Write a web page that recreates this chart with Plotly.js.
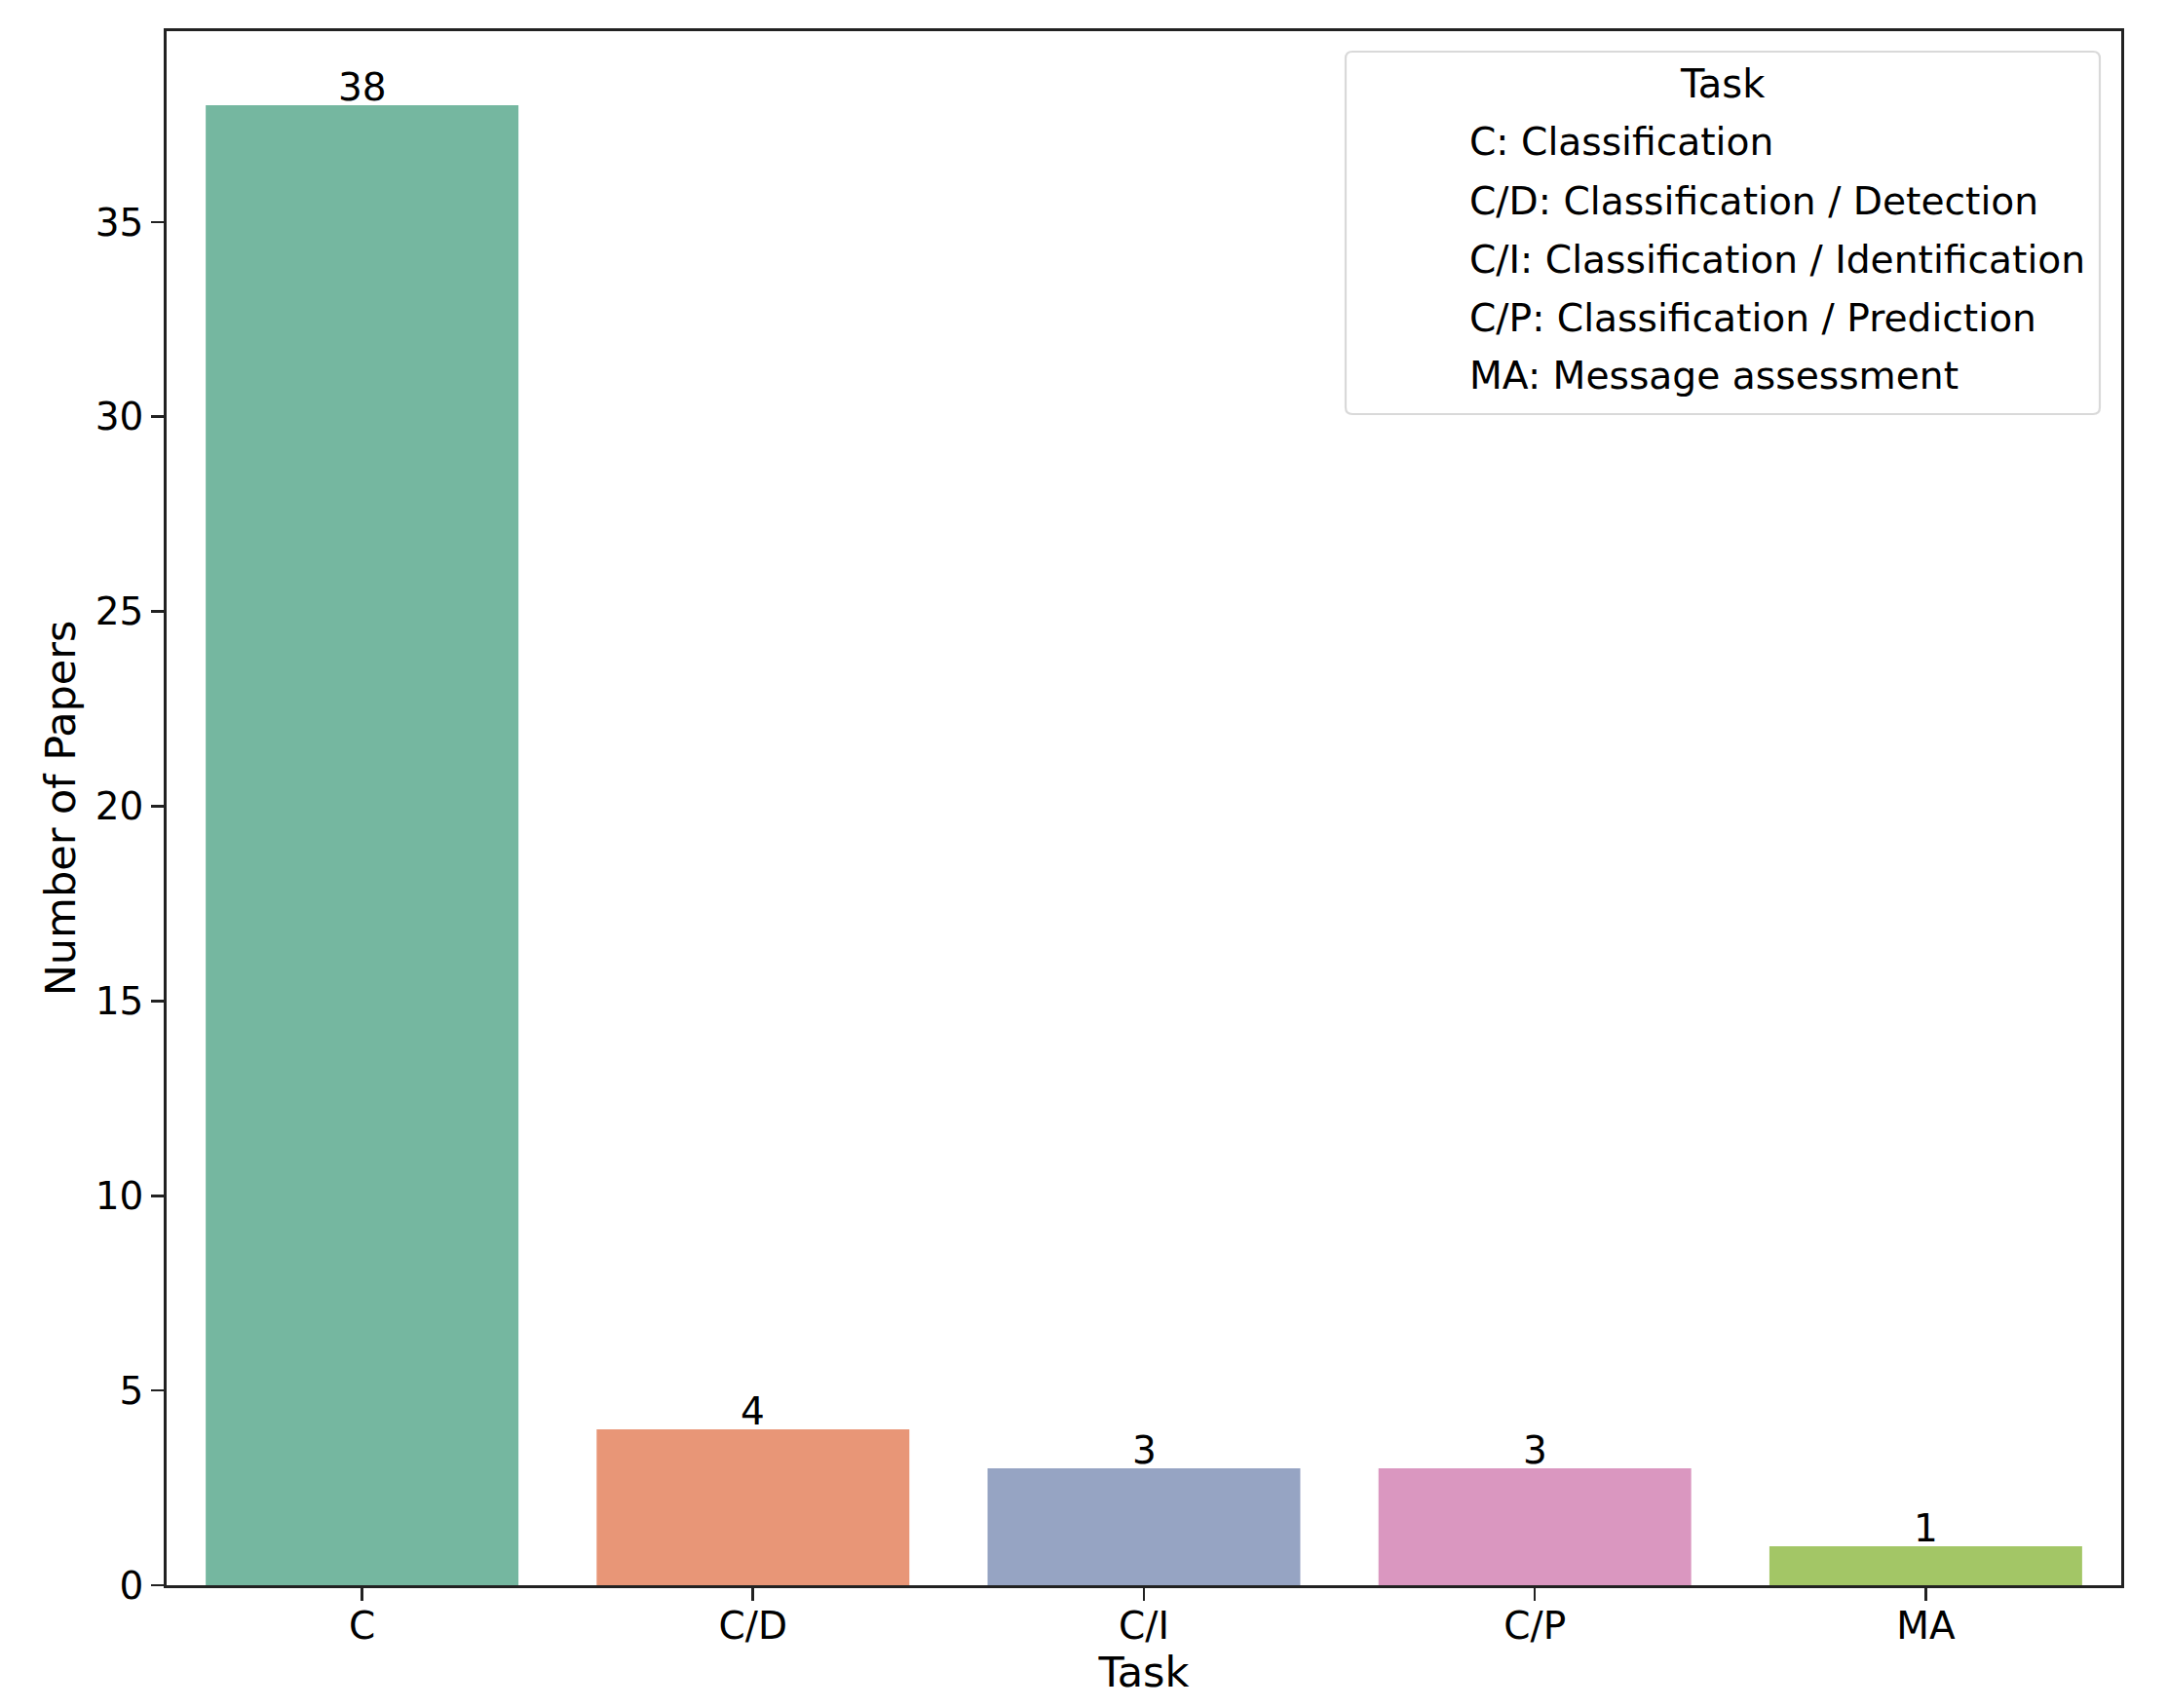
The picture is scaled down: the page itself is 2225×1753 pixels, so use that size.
<!DOCTYPE html>
<html>
<head>
<meta charset="utf-8">
<script src="https://cdn.plot.ly/plotly-3.0.1.min.js"></script>
<style>
  html, body { margin: 0; padding: 0; background: #fff; }
  #chart { width: 2225px; height: 1753px; }
</style>
</head>
<body>
<div id="chart"></div>
<script>
// data
var tasks = ['C', 'C/D', 'C/I', 'C/P', 'MA'];
var paperCounts = [38, 4, 3, 3, 1];
var barColors = ['#75b7a0', '#e89677', '#96a4c3', '#da97c0', '#a3c666'];
var legendTitle = 'Task';
var legendLabels = [
  'C: Classification',
  'C/D: Classification / Detection',
  'C/I: Classification / Identification',
  'C/P: Classification / Prediction',
  'MA: Message assessment'
];

var W = 2225, H = 1753;
var plotL = 171, plotR = 2177, plotT = 32, plotB = 1627;
var font = 'DejaVu Sans, sans-serif';

// pixel -> paper helpers for the legend box
function px(x) { return (x - plotL) / (plotR - plotL); }
function py(y) { return (plotB - y) / (plotB - plotT); }

var trace = {
  type: 'bar',
  x: tasks,
  y: paperCounts,
  width: 0.8,
  marker: { color: barColors, line: { width: 0 } },
  hoverinfo: 'x+y',
  showlegend: false
};

// value labels sitting on top of each bar
var annotations = tasks.map(function (t, i) {
  return {
    x: t, y: paperCounts[i], xref: 'x', yref: 'y',
    xanchor: 'center', yanchor: 'bottom', yshift: -6,
    text: String(paperCounts[i]), showarrow: false,
    font: { family: font, size: 39, color: '#000' }
  };
});

// legend drawn as a framed box of plain text (no handles, like the original)
var boxL = 1381, boxR = 2155, boxT = 53, boxB = 425, rad = 7;
var rx = rad / (plotR - plotL), ry = rad / (plotB - plotT);
var x0 = px(boxL), x1 = px(boxR), y0 = py(boxB), y1 = py(boxT);
var boxPath = 'M' + (x0 + rx) + ',' + y1 +
  ' L' + (x1 - rx) + ',' + y1 + ' Q' + x1 + ',' + y1 + ' ' + x1 + ',' + (y1 - ry) +
  ' L' + x1 + ',' + (y0 + ry) + ' Q' + x1 + ',' + y0 + ' ' + (x1 - rx) + ',' + y0 +
  ' L' + (x0 + rx) + ',' + y0 + ' Q' + x0 + ',' + y0 + ' ' + x0 + ',' + (y0 + ry) +
  ' L' + x0 + ',' + (y1 - ry) + ' Q' + x0 + ',' + y1 + ' ' + (x0 + rx) + ',' + y1 + ' Z';

annotations.push({
  xref: 'paper', yref: 'paper',
  x: px((boxL + boxR) / 2), y: py(86),
  xanchor: 'center', yanchor: 'middle',
  text: legendTitle, showarrow: false,
  font: { family: font, size: 40, color: '#000' }
});
legendLabels.forEach(function (lab, i) {
  annotations.push({
    xref: 'paper', yref: 'paper',
    x: px(1506), y: py(146 + i * 60),
    xanchor: 'left', yanchor: 'middle',
    text: lab, showarrow: false,
    font: { family: font, size: 39.2, color: '#000' }
  });
});

var axisCommon = {
  showline: true, mirror: true, linecolor: '#222', linewidth: 2.8,
  showgrid: false, zeroline: false,
  ticks: 'outside', ticklen: 13, tickwidth: 2.6, tickcolor: '#222',
  tickfont: { family: font, size: 39, color: '#000' }
};

var layout = {
  width: W, height: H,
  margin: { l: plotL, r: W - plotR, t: plotT, b: H - plotB, pad: 0 },
  paper_bgcolor: '#fff', plot_bgcolor: '#fff',
  font: { family: font, color: '#000' },
  bargap: 0.2,
  xaxis: Object.assign({}, axisCommon, {
    type: 'category',
    range: [-0.5, 4.5],
    ticklabelstandoff: -8,
    title: { text: 'Task', font: { family: font, size: 43, color: '#000' }, standoff: 7 },
    automargin: false
  }),
  yaxis: Object.assign({}, axisCommon, {
    range: [0, 39.9],
    tickmode: 'array',
    tickvals: [0, 5, 10, 15, 20, 25, 30, 35],
    title: { text: 'Number of Papers', font: { family: font, size: 43, color: '#000' }, standoff: 7 },
    automargin: false
  }),
  shapes: [{
    type: 'path', xref: 'paper', yref: 'paper', path: boxPath,
    fillcolor: '#fff', line: { color: '#d9d9d9', width: 2.2 }, layer: 'above'
  }],
  annotations: annotations
};

Plotly.newPlot('chart', [trace], layout, { displayModeBar: false, staticPlot: true });
</script>
</body>
</html>
